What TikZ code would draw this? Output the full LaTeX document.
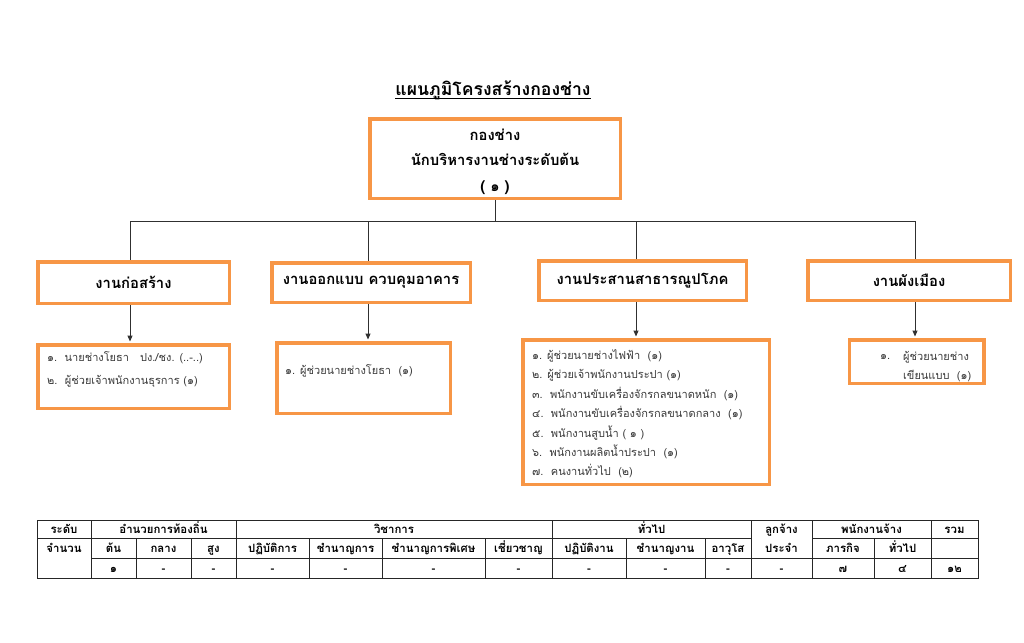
\documentclass[tikz,border=0pt]{standalone}
\usepackage{fontspec}
\usetikzlibrary{arrows.meta}
\newfontfamily\thai[Script=Thai]{Loma}
\definecolor{orng}{HTML}{F79646}
\definecolor{txtg}{HTML}{3A3A3A}
\definecolor{lineg}{HTML}{303030}
\begin{document}
\begin{tikzpicture}[x=1pt,y=-1pt,
  obox/.style={draw=orng,line width=3.5pt,fill=white,inner sep=0pt},
  headfont/.style={font=\thai\bfseries\fontsize{14.8}{25.5}\selectfont},
  item/.style={font=\thai\fontsize{11}{19.4}\selectfont,text=txtg,align=left,anchor=west,inner sep=0pt},
  conn/.style={draw=lineg,line width=1pt},
  arr/.style={conn,-{Triangle[length=6pt,width=5pt]},shorten >=1.5pt},
  cell/.style={font=\thai\bfseries\fontsize{11.4}{13}\selectfont,inner sep=0pt,anchor=base},
  tl/.style={draw=black!85,line width=0.9pt}]
\useasboundingbox (0,0) rectangle (1024,642);
\fill[white] (0,0) rectangle (1024,642);

% title
\node[font=\thai\bfseries\fontsize{17.6}{20}\selectfont,inner sep=0pt,anchor=base] (title) at (493,95) {แผนภูมิโครงสร้างกองช่าง};
\draw[line width=1pt] ([yshift=-3pt]title.base west) -- ([yshift=-3pt]title.base east);

% top box
\node[obox,minimum width=250.5pt,minimum height=79.5pt] (top) at (495,158.5) {};
\node[headfont,align=center,inner sep=0pt] (toptext) at (495,161.5)
  {กองช่าง\\นักบริหารงานช่างระดับต้น\\( ๑ )};

% level 2 boxes
\node[obox,headfont,minimum width=191.5pt,minimum height=41.5pt] (b1) at (133.5,282.5) {งานก่อสร้าง};
\node[obox,headfont,minimum width=198.5pt,minimum height=39.5pt] (b2) at (371,282.5) {งานออกแบบ ควบคุมอาคาร};
\node[obox,headfont,minimum width=207.5pt,minimum height=39.5pt] (b3) at (642.5,280.5) {งานประสานสาธารณูปโภค};
\node[obox,headfont,minimum width=202.5pt,minimum height=39.5pt] (b4) at (909,280.5) {งานผังเมือง};

% level 3 boxes
\node[obox,minimum width=191.5pt,minimum height=63.5pt] (l1) at (133.5,376.5) {};
\node[obox,minimum width=173.5pt,minimum height=70.5pt] (l2) at (363.5,378) {};
\node[obox,minimum width=246.5pt,minimum height=144.5pt] (l3) at (646,412) {};
\node[obox,minimum width=134.5pt,minimum height=43.5pt] (l4) at (916.5,361.5) {};

% level 3 texts
\node[item,font=\thai\fontsize{11}{23}\selectfont] (t1) at (47,369)
  {๑.\ \ นายช่างโยธา\quad ปง./ชง. (..-..)\\๒.\ \ ผู้ช่วยเจ้าพนักงานธุรการ (๑)};
\node[item] (t2) at (285,371) {๑. ผู้ช่วยนายช่างโยธา\ \ (๑)};
\node[item] (t3) at (532,414)
  {๑. ผู้ช่วยนายช่างไฟฟ้า\ \ (๑)\\
   ๒. ผู้ช่วยเจ้าพนักงานประปา (๑)\\
   ๓.\ \ พนักงานขับเครื่องจักรกลขนาดหนัก\ \ (๑)\\
   ๔.\ \ พนักงานขับเครื่องจักรกลขนาดกลาง\ \ (๑)\\
   ๕.\ \ พนักงานสูบน้ำ ( ๑ )\\
   ๖.\ \ พนักงานผลิตน้ำประปา\ \ (๑)\\
   ๗.\ \ คนงานทั่วไป\ \ (๒)};
\node[item] (t4n) at (880,357) {๑.};
\node[item] (t4) at (903,366.5) {ผู้ช่วยนายช่าง\\เขียนแบบ\ \ (๑)};

% connectors
\coordinate (j) at (495,221);
\coordinate (hl) at (130,221);
\coordinate (h2) at (368,221);
\coordinate (h3) at (636,221);
\coordinate (hr) at (915,221);
\draw[conn] (top.south -| j) -- (j);
\draw[conn] (hl) -- (hr);
\draw[conn] (hl) -- (hl |- b1.north);
\draw[conn] (h2) -- (h2 |- b2.north);
\draw[conn] (h3) -- (h3 |- b3.north);
\draw[conn] (hr) -- (hr |- b4.north);
\draw[arr] (hl |- b1.south) -- (hl |- l1.north);
\draw[arr] (h2 |- b2.south) -- (h2 |- l2.north);
\draw[arr] (h3 |- b3.south) -- (h3 |- l3.north);
\draw[arr] (hr |- b4.south) -- (hr |- l4.north);

% table lines
\draw[tl] (37,520) rectangle (978,578);
\draw[tl] (37,538) -- (751,538);
\draw[tl] (812,538) -- (978,538);
\draw[tl] (91,558) -- (978,558);
\foreach \x in {91,236,552,751,812,931} \draw[tl] (\x,520) -- (\x,578);
\foreach \x in {136,191,309,382,485,626,705,874} \draw[tl] (\x,538) -- (\x,578);

% table row 1
\node[cell] (h1a) at (64,533) {ระดับ};
\node[cell] (h1b) at (163.5,533) {อำนวยการท้องถิ่น};
\node[cell] (h1c) at (394,533) {วิชาการ};
\node[cell] (h1d) at (651.5,533) {ทั่วไป};
\node[cell] (h1e) at (781.5,533) {ลูกจ้าง};
\node[cell] (h1f) at (871.5,533) {พนักงานจ้าง};
\node[cell] (h1g) at (954.5,533) {รวม};
% table row 2
\node[cell] (h2a) at (64,552) {จำนวน};
\foreach \x/\t [count=\i] in {113.5/ต้น,163.5/กลาง,213.5/สูง,272.5/ปฏิบัติการ,345.5/ชำนาญการ,433.5/ชำนาญการพิเศษ,518.5/เชี่ยวชาญ,589/ปฏิบัติงาน,665.5/ชำนาญงาน,728/อาวุโส,781.5/ประจำ,843/ภารกิจ,902.5/ทั่วไป}
  \node[cell] (r2c\i) at (\x,552) {\t};
% table row 3
\foreach \x/\t [count=\i] in {113.5/๑,163.5/-,213.5/-,272.5/-,345.5/-,433.5/-,518.5/-,589/-,665.5/-,728/-,781.5/-,843/๗,902.5/๔,954.5/๑๒}
  \node[cell] (r3c\i) at (\x,572) {\t};
\end{tikzpicture}
\end{document}
